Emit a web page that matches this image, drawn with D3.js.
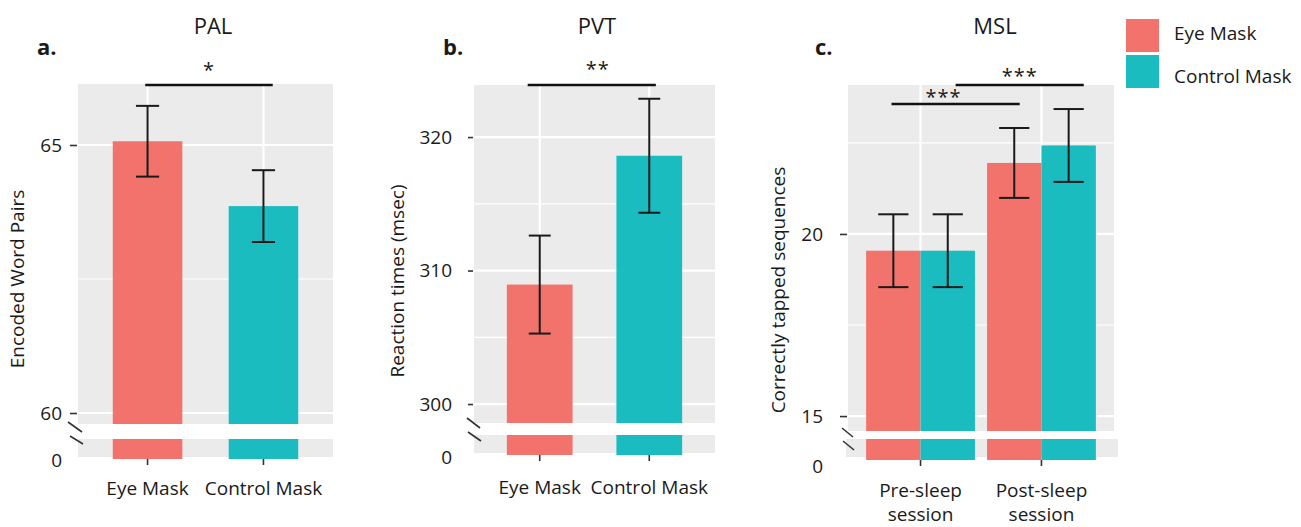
<!DOCTYPE html>
<html>
<head>
<meta charset="utf-8">
<script src="https://cdn.jsdelivr.net/npm/d3@7"></script>
<style>
  body { margin: 0; background: #fff; }
  svg text { font-family: "Open Sans", sans-serif; fill: #1a1a1a; }
</style>
</head>
<body>
<svg id="fig" width="1301" height="527"></svg>
<script>
/* global d3 */

// ---- data ----
var conditions = [ "Eye Mask", "Control Mask" ];
var colors = [ "#f2736b", "#1bbcc0" ];

var palMean = [ 65.07, 63.86 ];
var palSE = [ 0.66, 0.67 ];
var palTicks = [ 60, 65 ];

var pvtMean = [ 308.95, 318.6 ];
var pvtSE = [ 3.67, 4.27 ];
var pvtTicks = [ 300, 310, 320 ];

var sessions = [ [ "Pre-sleep", "session" ], [ "Post-sleep", "session" ] ];
var mslEyeMean = [ 19.54, 21.95 ];
var mslEyeSE = [ 1.0, 0.96 ];
var mslCtrlMean = [ 19.54, 22.43 ];
var mslCtrlSE = [ 1.0, 1.0 ];
var mslTicks = [ 15, 20 ];

// significance brackets: x in category units (1 = first category), y in data units
var palSig = [ { x1: 0.98, x2: 2.08, lx: 1.53, y: 66.12, label: "*", dy: 19 } ];
var pvtSig = [ { x1: 0.89, x2: 2.06, lx: 1.53, y: 323.9, label: "**", dy: 20 } ];
var mslSig = [
  { x1: 0.76, x2: 1.82, lx: 1.19, y: 23.57, label: "***", dy: 11 },
  { x1: 1.29, x2: 2.35, lx: 1.82, y: 24.09, label: "***", dy: 13 }
];

var svg = d3.select( "#fig" );

function brokenBarPanel( opt ) {

  var g = svg.append( "g" );
  var n = opt.categories.length;

  var xp = d3.scalePoint().domain( d3.range( n ) ).range( [ opt.x0, opt.x1 ] ).padding( 0.6 );
  var step = xp.step();
  var xu = d3.scaleLinear().domain( [ 0.4, n + 0.6 ] ).range( [ opt.x0, opt.x1 ] );
  var y = d3.scaleLinear().domain( opt.domain ).range( [ opt.mainBottom, opt.top ] );

  // panel backgrounds
  g.append( "rect" )
    .attr( "x", opt.x0 ).attr( "y", opt.top )
    .attr( "width", opt.x1 - opt.x0 ).attr( "height", opt.mainBottom - opt.top )
    .attr( "fill", "#ebebeb" );
  g.append( "rect" )
    .attr( "x", opt.x0 - ( opt.stripPadL || 0 ) ).attr( "y", opt.stripTop )
    .attr( "width", opt.x1 - opt.x0 + ( opt.stripPadL || 0 ) + ( opt.stripPadR || 0 ) )
    .attr( "height", opt.stripBottom - opt.stripTop )
    .attr( "fill", "#ebebeb" );

  // grid
  var d = opt.ticks[ 1 ] - opt.ticks[ 0 ];
  var minor = [ opt.ticks[ 0 ] - d / 2 ].concat( opt.ticks.map( function( t ) { return t + d / 2; } ) )
    .filter( function( v ) { return v > opt.domain[ 0 ] && v < opt.domain[ 1 ]; } );

  g.selectAll( ".minor" ).data( minor ).enter().append( "line" )
    .attr( "x1", opt.x0 ).attr( "x2", opt.x1 )
    .attr( "y1", y ).attr( "y2", y )
    .attr( "stroke", "#fff" ).attr( "stroke-width", 1.2 );
  g.selectAll( ".major" ).data( opt.ticks ).enter().append( "line" )
    .attr( "x1", opt.x0 ).attr( "x2", opt.x1 )
    .attr( "y1", y ).attr( "y2", y )
    .attr( "stroke", "#fff" ).attr( "stroke-width", 2.2 );
  g.selectAll( ".vgrid" ).data( d3.range( n ) ).enter().append( "line" )
    .attr( "x1", xp ).attr( "x2", xp )
    .attr( "y1", opt.top ).attr( "y2", opt.mainBottom )
    .attr( "stroke", "#fff" ).attr( "stroke-width", 2.2 );

  function bx( r ) { return xp( r.cat ) + r.off * step - r.w * step / 2; }

  // bars, upper part
  g.selectAll( ".bar" ).data( opt.rows ).enter().append( "rect" )
    .attr( "x", bx )
    .attr( "width", function( r ) { return r.w * step; } )
    .attr( "y", function( r ) { return y( r.mean ); } )
    .attr( "height", function( r ) { return opt.mainBottom - y( r.mean ); } )
    .attr( "fill", function( r ) { return r.color; } );

  // bars, stub below the axis break
  g.selectAll( ".stub" ).data( opt.rows ).enter().append( "rect" )
    .attr( "x", bx )
    .attr( "width", function( r ) { return r.w * step; } )
    .attr( "y", opt.stripTop )
    .attr( "height", opt.zeroY - opt.stripTop )
    .attr( "fill", function( r ) { return r.color; } );

  // error bars
  var eb = g.selectAll( ".err" ).data( opt.rows ).enter().append( "g" )
    .attr( "stroke", "#1a1a1a" ).attr( "stroke-width", 2 );
  function cx( r ) { return xp( r.cat ) + r.off * step; }
  eb.append( "line" )
    .attr( "x1", cx ).attr( "x2", cx )
    .attr( "y1", function( r ) { return y( r.mean + r.se ); } )
    .attr( "y2", function( r ) { return y( r.mean - r.se ); } );
  [ 1, -1 ].forEach( function( s ) {
    eb.append( "line" )
      .attr( "x1", function( r ) { return cx( r ) - r.cap * step / 2; } )
      .attr( "x2", function( r ) { return cx( r ) + r.cap * step / 2; } )
      .attr( "y1", function( r ) { return y( r.mean + s * r.se ); } )
      .attr( "y2", function( r ) { return y( r.mean + s * r.se ); } );
  } );

  // y axis
  var yAxis = d3.axisLeft( y )
    .tickValues( opt.ticks )
    .tickFormat( d3.format( "d" ) )
    .tickSize( opt.tickLen )
    .tickPadding( opt.labelGap - opt.tickLen - 1 );
  var ya = g.append( "g" ).attr( "transform", "translate(" + ( opt.x0 - 1 ) + ",0)" ).call( yAxis );
  ya.select( ".domain" ).remove();
  ya.selectAll( "line" ).attr( "stroke", "#333" ).attr( "stroke-width", 1.6 );
  ya.selectAll( "text" ).attr( "font-size", 19 ).attr( "fill", null );
  ya.attr( "font-family", null );

  g.append( "text" )
    .attr( "x", opt.x0 - opt.labelGap ).attr( "y", opt.zeroLabelY )
    .attr( "text-anchor", "end" ).attr( "dominant-baseline", "central" )
    .attr( "font-size", 19 ).text( "0" );

  // axis break marks
  opt.breakMarks.forEach( function( m ) {
    g.append( "line" )
      .attr( "x1", m[ 0 ] ).attr( "y1", m[ 1 ] ).attr( "x2", m[ 2 ] ).attr( "y2", m[ 3 ] )
      .attr( "stroke", "#333" ).attr( "stroke-width", 1.6 );
  } );

  // x axis
  g.selectAll( ".xtick" ).data( d3.range( n ) ).enter().append( "line" )
    .attr( "x1", xp ).attr( "x2", xp )
    .attr( "y1", opt.zeroY ).attr( "y2", opt.zeroY + 6 )
    .attr( "stroke", "#333" ).attr( "stroke-width", 1.6 );
  var xl = g.selectAll( ".xlab" ).data( opt.categories ).enter().append( "text" )
    .attr( "text-anchor", "middle" ).attr( "font-size", 19 )
    .attr( "x", function( c, i ) { return xp( i ); } )
    .attr( "y", opt.xLabelY );
  xl.selectAll( "tspan" ).data( function( c ) { return [].concat( c ); } ).enter().append( "tspan" )
    .attr( "x", function() { return d3.select( this.parentNode ).attr( "x" ); } )
    .attr( "dy", function( t, i ) { return i ? 24 : 0; } )
    .attr( "dominant-baseline", "central" )
    .text( function( t ) { return t; } );

  // significance brackets
  opt.sig.forEach( function( s ) {
    g.append( "line" )
      .attr( "x1", xu( s.x1 ) ).attr( "x2", xu( s.x2 ) )
      .attr( "y1", y( s.y ) ).attr( "y2", y( s.y ) )
      .attr( "stroke", "#111" ).attr( "stroke-width", 2.4 );
    g.append( "text" )
      .attr( "x", xu( s.lx ) ).attr( "y", y( s.y ) - s.dy + 11 )
      .attr( "text-anchor", "middle" ).attr( "font-size", 20 ).attr( "letter-spacing", 1 )
      .text( s.label );
  } );

  // titles
  g.append( "text" )
    .attr( "x", opt.titleX ).attr( "y", 25 )
    .attr( "text-anchor", "middle" ).attr( "dominant-baseline", "central" )
    .attr( "font-size", 22 ).text( opt.title );
  g.append( "text" )
    .attr( "x", opt.letterX ).attr( "y", 55 )
    .attr( "font-size", 22 ).attr( "font-weight", "bold" ).text( opt.letter );
  g.append( "text" )
    .attr( "transform", "translate(" + opt.yTitle[ 0 ] + "," + opt.yTitle[ 1 ] + ") rotate(-90)" )
    .attr( "text-anchor", "middle" ).attr( "dominant-baseline", "central" )
    .attr( "font-size", 19 ).text( opt.ylabel );
}

function singleRows( means, ses ) {
  return means.map( function( m, i ) {
    return { cat: i, off: 0, w: 0.6, cap: 0.2, color: colors[ i ], mean: m, se: ses[ i ] };
  } );
}

function dodgedRows() {
  var series = [ [ mslEyeMean, mslEyeSE ], [ mslCtrlMean, mslCtrlSE ] ];
  var rows = [];
  sessions.forEach( function( s, i ) {
    series.forEach( function( sr, j ) {
      rows.push( { cat: i, off: ( j - 0.5 ) * 0.45, w: 0.45, cap: 0.25, color: colors[ j ], mean: sr[ 0 ][ i ], se: sr[ 1 ][ i ] } );
    } );
  } );
  return rows;
}

brokenBarPanel( {
  letter: "a.", letterX: 37, title: "PAL", titleX: 213, ylabel: "Encoded Word Pairs", yTitle: [ 17, 279 ],
  x0: 78, x1: 333, top: 84, mainBottom: 424, stripTop: 439, stripBottom: 457, zeroY: 459, zeroLabelY: 460,
  domain: [ 59.795, 66.138 ], ticks: palTicks, tickLen: 7, labelGap: 16,
  breakMarks: [ [ 68, 422, 82, 432 ], [ 70, 436, 83, 444 ] ],
  categories: conditions, xLabelY: 488, rows: singleRows( palMean, palSE ), sig: palSig
} );

brokenBarPanel( {
  letter: "b.", letterX: 443, title: "PVT", titleX: 597, ylabel: "Reaction times (msec)", yTitle: [ 397, 281 ],
  x0: 474, x1: 715, top: 85, mainBottom: 423, stripTop: 435, stripBottom: 453, zeroY: 455, zeroLabelY: 457,
  domain: [ 298.58, 323.9 ], ticks: pvtTicks, tickLen: 5, labelGap: 22,
  breakMarks: [ [ 467, 418, 480, 428 ], [ 468, 432, 481, 441 ] ],
  categories: conditions, xLabelY: 487, rows: singleRows( pvtMean, pvtSE ), sig: pvtSig
} );

brokenBarPanel( {
  letter: "c.", letterX: 815, title: "MSL", titleX: 995, ylabel: "Correctly tapped sequences", yTitle: [ 778, 290 ],
  x0: 848, x1: 1114, top: 85, mainBottom: 431, stripTop: 439, stripBottom: 457, zeroY: 460, zeroLabelY: 466,
  stripPadL: 2, stripPadR: 4,
  domain: [ 14.59, 24.09 ], ticks: mslTicks, tickLen: 7, labelGap: 25,
  breakMarks: [ [ 842, 428, 853, 437 ], [ 843, 441, 854, 450 ] ],
  categories: sessions, xLabelY: 490, rows: dodgedRows(), sig: mslSig
} );

// legend
var leg = svg.append( "g" ).attr( "transform", "translate(1126,19)" );
leg.selectAll( "rect" ).data( conditions ).enter().append( "rect" )
  .attr( "x", 0 ).attr( "y", function( c, i ) { return i * 36; } )
  .attr( "width", 33 ).attr( "height", 33 )
  .attr( "fill", function( c, i ) { return colors[ i ]; } );
leg.selectAll( "text" ).data( conditions ).enter().append( "text" )
  .attr( "x", 48 ).attr( "y", function( c, i ) { return 14 + i * 43; } )
  .attr( "dominant-baseline", "central" ).attr( "font-size", 19 )
  .text( function( c ) { return c; } );
</script>
</body>
</html>
